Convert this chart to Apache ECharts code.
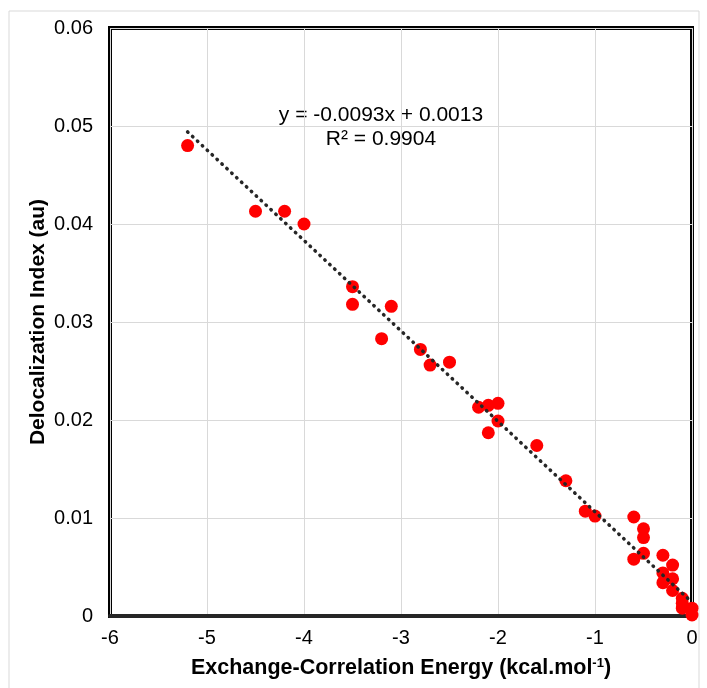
<!DOCTYPE html>
<html>
<head>
<meta charset="utf-8">
<script src="https://cdn.jsdelivr.net/npm/echarts@6/dist/echarts.min.js"></script>
<style>html,body{margin:0;padding:0;background:#fff}#c{width:707px;height:688px}</style>
</head>
<body>
<div id="c"></div>
<script>
const energyX = [-5.2, -4.5, -4.2, -4.0, -3.5, -3.5, -3.1, -3.2, -2.8, -2.7, -2.5, -2.2, -2.1, -2.0, -2.0, -2.1, -1.6, -1.3, -1.1, -1.0, -0.6, -0.5, -0.5, -0.6, -0.5, -0.3, -0.2, -0.3, -0.2, -0.3, -0.2, -0.1, -0.1, -0.1, 0, 0];
const diY = [0.048, 0.0413, 0.0413, 0.0400, 0.0336, 0.0318, 0.0316, 0.0283, 0.0272, 0.0256, 0.0259, 0.0213, 0.0215, 0.0217, 0.0199, 0.0187, 0.0174, 0.0138, 0.0107, 0.0102, 0.0101, 0.0089, 0.0080, 0.0058, 0.0064, 0.0062, 0.0052, 0.0044, 0.0038, 0.0034, 0.0026, 0.0018, 0.0013, 0.0008, 0.0008, 0.0001];
const trendX = [-5.2, 0];
const trendY = [0.0494, 0.0014];
const xTicks = [-6, -5, -4, -3, -2, -1, 0];
const yTicks = [0, 0.01, 0.02, 0.03, 0.04, 0.05, 0.06];
const eqText = 'y = -0.0093x + 0.0013';
const r2Text = 'R² = 0.9904';

const font = '"Liberation Sans", Arial, sans-serif';
const chart = echarts.init(document.getElementById('c'));
chart.setOption({
  animation: false,
  grid: { left: 110, right: 15, top: 28, bottom: 72, show: true, borderColor: '#000', borderWidth: 4, containLabel: false },
  xAxis: {
    type: 'value', min: -6, max: 0, interval: 1,
    name: '{b|Exchange-Correlation Energy (kcal.mol}{s|-1}{b|)}',
    nameLocation: 'middle', nameGap: 41, nameMoveOverlap: false,
    nameTextStyle: { rich: {
      b: { fontFamily: font, fontWeight: 'bold', fontSize: 21.5, color: '#000' },
      s: { fontFamily: font, fontWeight: 'bold', fontSize: 13, color: '#000', verticalAlign: 'top', padding: [0, 0, 9, 0] }
    } },
    axisLine: { show: true, onZero: false, lineStyle: { color: '#262626', width: 4 } },
    axisTick: { show: false },
    axisLabel: { fontFamily: font, fontSize: 20, color: '#000', margin: 12, formatter: v => xTicks.includes(v) ? String(v) : '' },
    splitLine: { show: true, lineStyle: { color: '#d9d9d9', width: 1 } }
  },
  yAxis: {
    type: 'value', min: 0, max: 0.06, interval: 0.01,
    name: 'Delocalization Index (au)', nameLocation: 'middle', nameGap: 61, nameMoveOverlap: false,
    nameTextStyle: { fontFamily: font, fontWeight: 'bold', fontSize: 21, color: '#000' },
    axisLine: { show: false },
    axisTick: { show: false },
    axisLabel: { fontFamily: font, fontSize: 20, color: '#000', margin: 17,
      formatter: v => { const t = yTicks.find(k => Math.abs(k - v) < 1e-9); return t === undefined ? '' : (t === 0 ? '0' : t.toFixed(2)); } },
    splitLine: { show: true, lineStyle: { color: '#d9d9d9', width: 1 } }
  },
  series: [
    {
      type: 'scatter', symbol: 'circle', symbolSize: 13,
      itemStyle: { color: '#ff0000', opacity: 1 },
      data: energyX.map((x, i) => [x, diY[i]]), z: 2
    },
    {
      type: 'line', showSymbol: false, symbol: 'none',
      lineStyle: { color: '#262626', width: 3.5, type: [0.5, 6.2], cap: 'round' },
      data: trendX.map((x, i) => [x, trendY[i]]), z: 3
    }
  ],
  graphic: [
    { type: 'rect', silent: true, z: -1, shape: { x: 9, y: 11, width: 690, height: 700 }, style: { fill: 'none', stroke: '#d9d9d9', lineWidth: 1 } },
    { type: 'text', x: 381, y: 115, style: { text: eqText, font: '21px ' + font, fill: '#000', align: 'center', verticalAlign: 'middle' } },
    { type: 'text', x: 381, y: 139, style: { text: r2Text, font: '21px ' + font, fill: '#000', align: 'center', verticalAlign: 'middle' } }
  ]
});
</script>
</body>
</html>
